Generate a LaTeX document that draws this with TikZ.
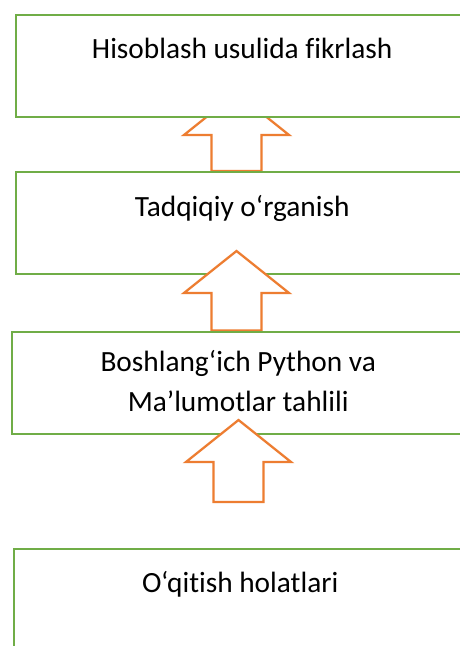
\documentclass[tikz,border=0pt]{standalone}
\usepackage{fontspec}
\setmainfont{Carlito}[Ligatures=NoCommon]
\usetikzlibrary{calc}

\definecolor{boxgreen}{HTML}{70AD47}
\definecolor{arrorange}{HTML}{ED7D31}

\tikzset{
  stage/.style={rectangle, draw=boxgreen, line width=1.8pt, fill=white, anchor=north west,
    minimum width=339pt, minimum height=76.5pt, inner sep=0pt},
  stagetext/.style={font=\fontsize{22}{30}\selectfont, align=center, inner sep=0pt, anchor=base},
  uparr/.style={draw=arrorange, line width=1.7pt, fill=white, line join=miter}
}

% hollow block arrow, tail #1 up to tip #2
\newcommand\blockarrow[2]{%
  \path[uparr] let \p1=(#1), \p2=(#2) in
    (\x1-18.75pt,\y1) -- (\x1-18.75pt,\y2-31.5pt) -- (\x1-39.4pt,\y2-31.5pt) -- (\x2,\y2)
    -- (\x1+39.4pt,\y2-31.5pt) -- (\x1+18.75pt,\y2-31.5pt) -- (\x1+18.75pt,\y1) -- cycle;}

\begin{document}
\begin{tikzpicture}[x=0.75pt, y=-0.75pt]
  \path[use as bounding box, clip] (0,0) rectangle (460,646);
  \fill[white] (0,0) rectangle (460,646);

  % arrow ends
  \coordinate (tip1) at (236.5,93);
  \coordinate (tail1) at (236.5,171);
  \coordinate (tip2) at (236.5,251);
  \coordinate (tail2) at (236.5,330.5);
  \coordinate (tip3) at (238.5,420);
  \coordinate (tail3) at (238.5,502);

  \blockarrow{tail1}{tip1}
  \node[stage] (hisob) at (15,13.5) {};
  \node[stagetext] (hisobtxt) at ([yshift=-33.5pt]hisob.north) {Hisoblash usulida fikrlash};

  \node[stage] (tadqiq) at (15,171) {};
  \node[stagetext] (tadqiqtxt) at ([yshift=-34.2pt]tadqiq.north) {Tadqiqiy o‘rganish};

  \blockarrow{tail2}{tip2}
  \node[stage] (python) at (11,330.5) {};
  \node[stagetext] (pythontxt) at ([yshift=-60.9pt]python.north) {Boshlang‘ich Python va\\Ma’lumotlar tahlili};

  \blockarrow{tail3}{tip3}
  \node[stage] (oqitish) at (13,548) {};
  \node[stagetext] (oqitishtxt) at ([yshift=-33.7pt]oqitish.north) {O‘qitish holatlari};
\end{tikzpicture}
\end{document}
